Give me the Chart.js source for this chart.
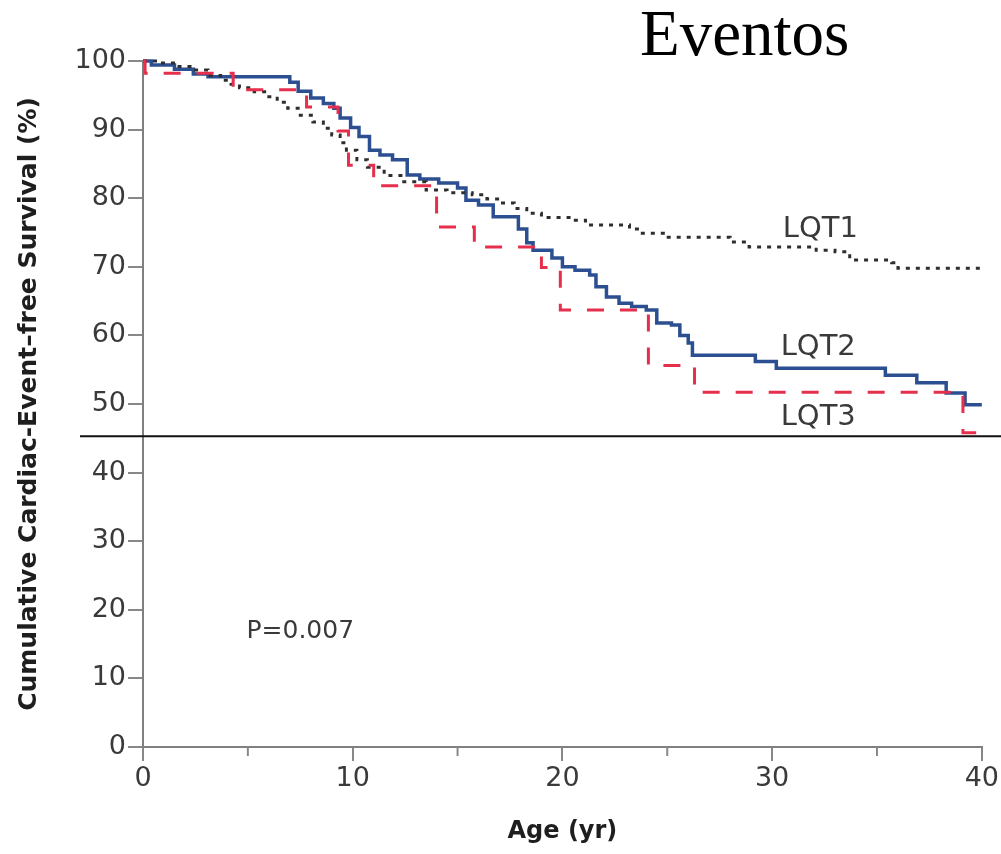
<!DOCTYPE html>
<html>
<head>
<meta charset="utf-8">
<script src="https://cdn.jsdelivr.net/npm/chart.js@4.4.0/dist/chart.umd.min.js"></script>
<style>
  html, body { margin: 0; padding: 0; background: #fff; }
  #wrap { width: 1001px; height: 854px; }
</style>
</head>
<body>
<div id="wrap"><canvas id="chart" width="1001" height="854"></canvas></div>
<script>
// Datos (edad en años, supervivencia en %)
const lqt1Age = [0, 0.8, 1.6, 2.4, 3.1, 3.7, 4.2, 4.6, 5.3, 5.9, 6.4, 6.9, 7.5, 8.1, 8.6, 9.0, 9.4, 9.7, 10.2, 10.7, 11.5, 12.3, 13.5, 14.5, 15.7, 16.4, 17.0, 17.7, 18.3, 19.0, 20.5, 21.1, 23.2, 23.7, 24.9, 28.0, 28.9, 32.1, 33.0, 33.7, 35.7, 36.0, 40];
const lqt1Surv = [100, 99.7, 99.2, 98.7, 97.9, 97.2, 96.6, 96.1, 95.5, 94.8, 94.0, 93.1, 92.1, 91.1, 90.2, 89.2, 88.1, 87.0, 85.6, 84.5, 83.3, 82.4, 81.2, 80.8, 80.5, 79.9, 79.3, 78.5, 77.8, 77.2, 76.8, 76.1, 75.5, 74.9, 74.3, 73.6, 72.9, 72.4, 72.2, 71.0, 70.6, 69.8, 69.8];

const lqt2Age = [0, 0.4, 1.5, 2.4, 3.1, 7.0, 7.4, 8.0, 8.6, 9.1, 9.4, 9.9, 10.3, 10.8, 11.3, 11.9, 12.6, 13.2, 14.1, 15.0, 15.4, 16.0, 16.7, 17.9, 18.3, 18.6, 19.5, 20.0, 20.6, 21.3, 21.6, 22.1, 22.7, 23.3, 24.0, 24.5, 25.2, 25.6, 26.0, 26.2, 29.2, 30.2, 35.4, 36.9, 38.3, 39.2, 40];
const lqt2Surv = [100, 99.4, 98.8, 98.1, 97.7, 96.9, 95.6, 94.6, 93.8, 93.1, 91.7, 90.3, 89.0, 87.0, 86.3, 85.6, 83.4, 82.8, 82.2, 81.5, 79.7, 79.0, 77.3, 75.5, 73.5, 72.4, 71.3, 70.0, 69.5, 68.8, 67.1, 65.6, 64.7, 64.2, 63.7, 61.8, 61.5, 60.0, 58.9, 57.1, 56.2, 55.2, 54.2, 53.1, 51.6, 49.9, 49.9];

const lqt3Age = [0, 0.1, 4.3, 7.8, 9.3, 9.8, 11.0, 14.0, 15.8, 19.0, 19.9, 24.1, 26.3, 39.1, 40];
const lqt3Surv = [100, 98.2, 95.8, 93.3, 89.8, 84.8, 81.8, 75.8, 72.9, 69.9, 63.7, 55.6, 51.7, 45.8, 45.8];

const xTicks = [0, 10, 20, 30, 40];
const xMinorTicks = [5, 15, 25, 35];
const refLineValue = 45.3;
const pValueText = 'P=0.007';

function toPoints(ages, surv) {
    return ages.map((a, i) => ({ x: a, y: surv[i] }));
}

const tickFont = { family: 'DejaVu Sans', size: 27 };

// Textos, línea horizontal y marcas menores
const extrasPlugin = {
    id: 'extras',
    afterDraw(chart) {
        const ctx = chart.ctx;
        const xs = chart.scales.x;
        const ys = chart.scales.y;
        ctx.save();

        // marcas menores del eje x
        ctx.strokeStyle = '#888';
        ctx.lineWidth = 2;
        xMinorTicks.forEach(v => {
            const px = xs.getPixelForValue(v);
            ctx.beginPath();
            ctx.moveTo(px, ys.bottom);
            ctx.lineTo(px, ys.bottom + 9);
            ctx.stroke();
        });

        // línea horizontal
        const yLine = ys.getPixelForValue(refLineValue);
        ctx.strokeStyle = '#111';
        ctx.lineWidth = 2;
        ctx.beginPath();
        ctx.moveTo(80, yLine);
        ctx.lineTo(chart.width, yLine);
        ctx.stroke();

        // etiquetas de las curvas
        ctx.fillStyle = '#3a3a3a';
        ctx.font = '29px "DejaVu Sans"';
        ctx.textAlign = 'center';
        ctx.textBaseline = 'middle';
        ctx.fillText('LQT1', xs.getPixelForValue(32.3), ys.getPixelForValue(75.4));
        ctx.fillText('LQT2', xs.getPixelForValue(32.2), ys.getPixelForValue(58.3));
        ctx.fillText('LQT3', xs.getPixelForValue(32.2), ys.getPixelForValue(48.0));

        ctx.font = '25px "DejaVu Sans"';
        ctx.fillText(pValueText, xs.getPixelForValue(7.5), ys.getPixelForValue(16.8));

        // título
        ctx.fillStyle = '#000';
        ctx.font = '65px "Liberation Serif"';
        ctx.textAlign = 'left';
        ctx.textBaseline = 'alphabetic';
        ctx.fillText('Eventos', 640, 55);
        ctx.restore();
    }
};

new Chart(document.getElementById('chart').getContext('2d'), {
    type: 'line',
    data: {
        datasets: [
            {
                label: 'LQT3',
                data: toPoints(lqt3Age, lqt3Surv),
                borderColor: '#e52f4c',
                borderWidth: 3,
                borderDash: [17, 16],
                stepped: true,
                pointRadius: 0,
                fill: false,
                clip: false
            },
            {
                label: 'LQT1',
                data: toPoints(lqt1Age, lqt1Surv),
                borderColor: '#2e2e2e',
                borderWidth: 3,
                borderDash: [4, 6],
                stepped: true,
                pointRadius: 0,
                fill: false,
                clip: false
            },
            {
                label: 'LQT2',
                data: toPoints(lqt2Age, lqt2Surv),
                borderColor: '#2b4f90',
                borderWidth: 3.5,
                stepped: true,
                pointRadius: 0,
                fill: false,
                clip: false
            }
        ]
    },
    options: {
        responsive: false,
        animation: false,
        devicePixelRatio: 1,
        layout: { padding: { top: 61, right: 18, left: 0, bottom: 0 } },
        plugins: {
            legend: { display: false },
            tooltip: { enabled: false }
        },
        scales: {
            x: {
                type: 'linear',
                min: 0,
                max: 40,
                afterBuildTicks: s => { s.ticks = xTicks.map(v => ({ value: v })); },
                ticks: { color: '#3a3a3a', font: tickFont, padding: 2, maxRotation: 0 },
                grid: { drawOnChartArea: false, drawTicks: true, tickLength: 14, color: '#888', lineWidth: 2 },
                border: { color: '#808080', width: 2 },
                title: {
                    display: true,
                    text: 'Age (yr)',
                    color: '#1e1e1e',
                    font: { family: 'DejaVu Sans', size: 24, weight: 'bold' },
                    padding: { bottom: 8, top: 0 }
                },
                afterFit: s => { s.height = 107; }
            },
            y: {
                min: 0,
                max: 100,
                ticks: { stepSize: 10, color: '#3a3a3a', font: tickFont, padding: 2 },
                grid: { drawOnChartArea: false, drawTicks: true, tickLength: 15, color: '#888', lineWidth: 2 },
                border: { color: '#808080', width: 2 },
                title: {
                    display: true,
                    text: 'Cumulative Cardiac-Event–free Survival (%)',
                    color: '#1e1e1e',
                    font: { family: 'DejaVu Sans', size: 25, weight: 'bold' },
                    padding: { top: 14, bottom: 0 }
                },
                afterFit: s => { s.width = 143; }
            }
        }
    },
    plugins: [extrasPlugin]
});
</script>
</body>
</html>
